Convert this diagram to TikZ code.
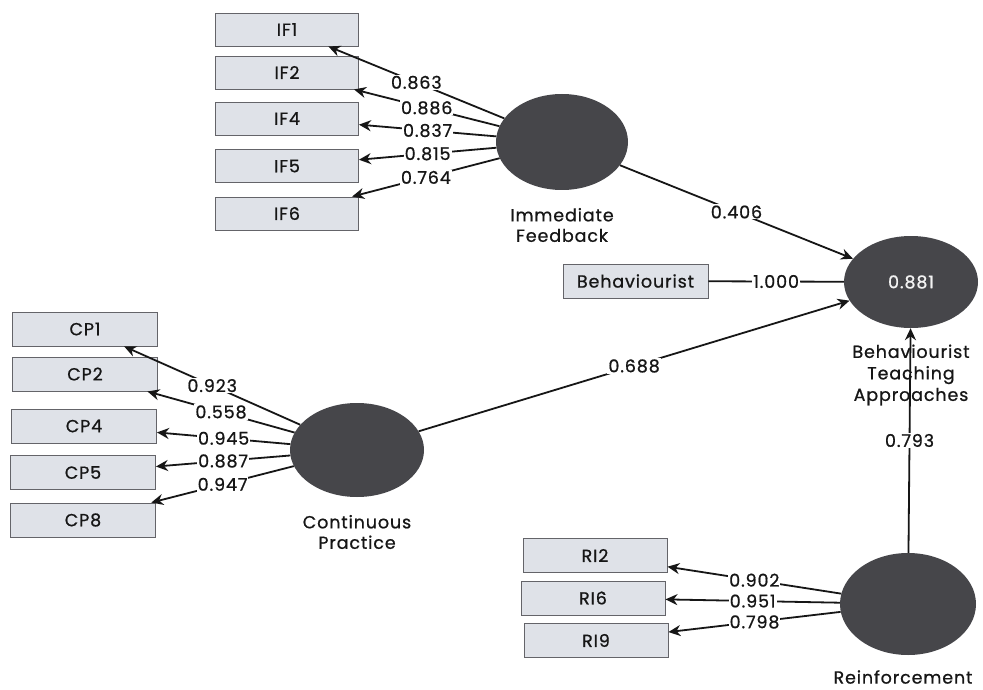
\documentclass[tikz,border=0pt]{standalone}
\usepackage{fontspec}
\setmainfont{Poppins}
\newfontfamily\plsfont{Poppins}[FakeBold=0.8, LetterSpace=5]
\usetikzlibrary{arrows.meta,shapes.geometric}
\definecolor{boxfill}{RGB}{223,226,232}
\definecolor{boxline}{RGB}{100,100,105}
\definecolor{latent}{RGB}{70,70,74}
\definecolor{ink}{RGB}{22,22,22}

\begin{document}
\begin{tikzpicture}[x=1pt,y=-1pt,
  indicator/.style={draw=boxline, fill=boxfill, line width=0.9pt,
    minimum width=144pt, minimum height=34pt, inner sep=0pt,
    font=\plsfont\fontsize{17.5}{17.5}\selectfont, text=ink},
  construct/.style={ellipse, fill=latent, inner sep=0pt},
  cname/.style={align=center, font=\plsfont\fontsize{17.5}{20.5}\selectfont, text=ink},
  link/.style={line width=1.8pt, draw=ink},
  arr/.style={link, -{Stealth[length=12pt,width=11pt]}},
  coef/.style={fill=white, inner sep=1pt, font=\plsfont\fontsize{17.5}{17.5}\selectfont, text=ink},
]
% canvas
\fill[white] (0,0) rectangle (983,690);
\useasboundingbox (0,0) rectangle (983,690);

% latent constructs
\node[construct, minimum width=132pt, minimum height=96pt] (IFe) at (562,142) {};
\node[construct, minimum width=134pt, minimum height=92pt] (BTA) at (911,282)
  {\plsfont\fontsize{17.5}{17.5}\selectfont\color{white!90!gray}0.881};
\node[construct, minimum width=134pt, minimum height=94pt] (CPe) at (357,450) {};
\node[construct, minimum width=136pt, minimum height=102pt] (RIe) at (908,604) {};

% construct names
\node[cname] (IFlab) at (562,225) {Immediate\\Feedback};
\node[cname, font=\plsfont\fontsize{17.5}{21.5}\selectfont] (BTAlab) at (911,375) {Behaviourist\\Teaching\\Approaches};
\node[cname] (CPlab) at (357,532) {Continuous\\Practice};
\node[cname] (RIlab) at (903,677) {Reinforcement};

% indicators: Immediate Feedback
\node[indicator, minimum width=143pt, minimum height=33pt] (IF1) at (287,29.5) {IF1};
\node[indicator, minimum width=143pt, minimum height=33pt] (IF2) at (287,72.5) {IF2};
\node[indicator, minimum width=143pt, minimum height=33pt] (IF4) at (287,118.5) {IF4};
\node[indicator, minimum width=143pt, minimum height=33pt] (IF5) at (287,166) {IF5};
\node[indicator, minimum width=143pt, minimum height=33pt] (IF6) at (287,213.5) {IF6};

% indicators: Continuous Practice
\node[indicator, minimum width=145pt] (CP1) at (85,329) {CP1};
\node[indicator, minimum width=145pt] (CP2) at (85,374) {CP2};
\node[indicator, minimum width=145pt] (CP4) at (84,426) {CP4};
\node[indicator, minimum width=145pt] (CP5) at (83,472.5) {CP5};
\node[indicator, minimum width=145pt] (CP8) at (83,520) {CP8};

% indicators: Reinforcement
\node[indicator] (RI2) at (595,555.5) {RI2};
\node[indicator] (RI6) at (593,598) {RI6};
\node[indicator] (RI9) at (596,640.5) {RI9};

% single indicator of the dependent construct
\node[indicator, minimum width=145pt] (Beh) at (635.5,281) {Behaviourist};

% outer loadings
\draw[arr] (IFe) -- node[coef] {0.863} (IF1);
\draw[arr] (IFe) -- node[coef] {0.886} (IF2);
\draw[arr] (IFe) -- node[coef] {0.837} (IF4);
\draw[arr] (IFe) -- node[coef] {0.815} (IF5);
\draw[arr] (IFe) -- node[coef] {0.764} (IF6);

\draw[arr] (CPe) -- node[coef] {0.923} (CP1);
\draw[arr] (CPe) -- node[coef] {0.558} (CP2);
\draw[arr] (CPe) -- node[coef] {0.945} (CP4);
\draw[arr] (CPe) -- node[coef] {0.887} (CP5);
\draw[arr] (CPe) -- node[coef] {0.947} (CP8);

\draw[arr] (RIe) -- node[coef] {0.902} (RI2);
\draw[arr] (RIe) -- node[coef] {0.951} (RI6);
\draw[arr] (RIe) -- node[coef] {0.798} (RI9);

\draw[link] (Beh) -- node[coef] {1.000} (BTA);

% structural paths
\draw[arr] (IFe) -- node[coef] {0.406} (BTA);
\draw[arr] (CPe) -- node[coef] {0.688} (BTA);
\draw[arr] (RIe) -- node[coef] {0.793} (BTA);
\end{tikzpicture}
\end{document}
